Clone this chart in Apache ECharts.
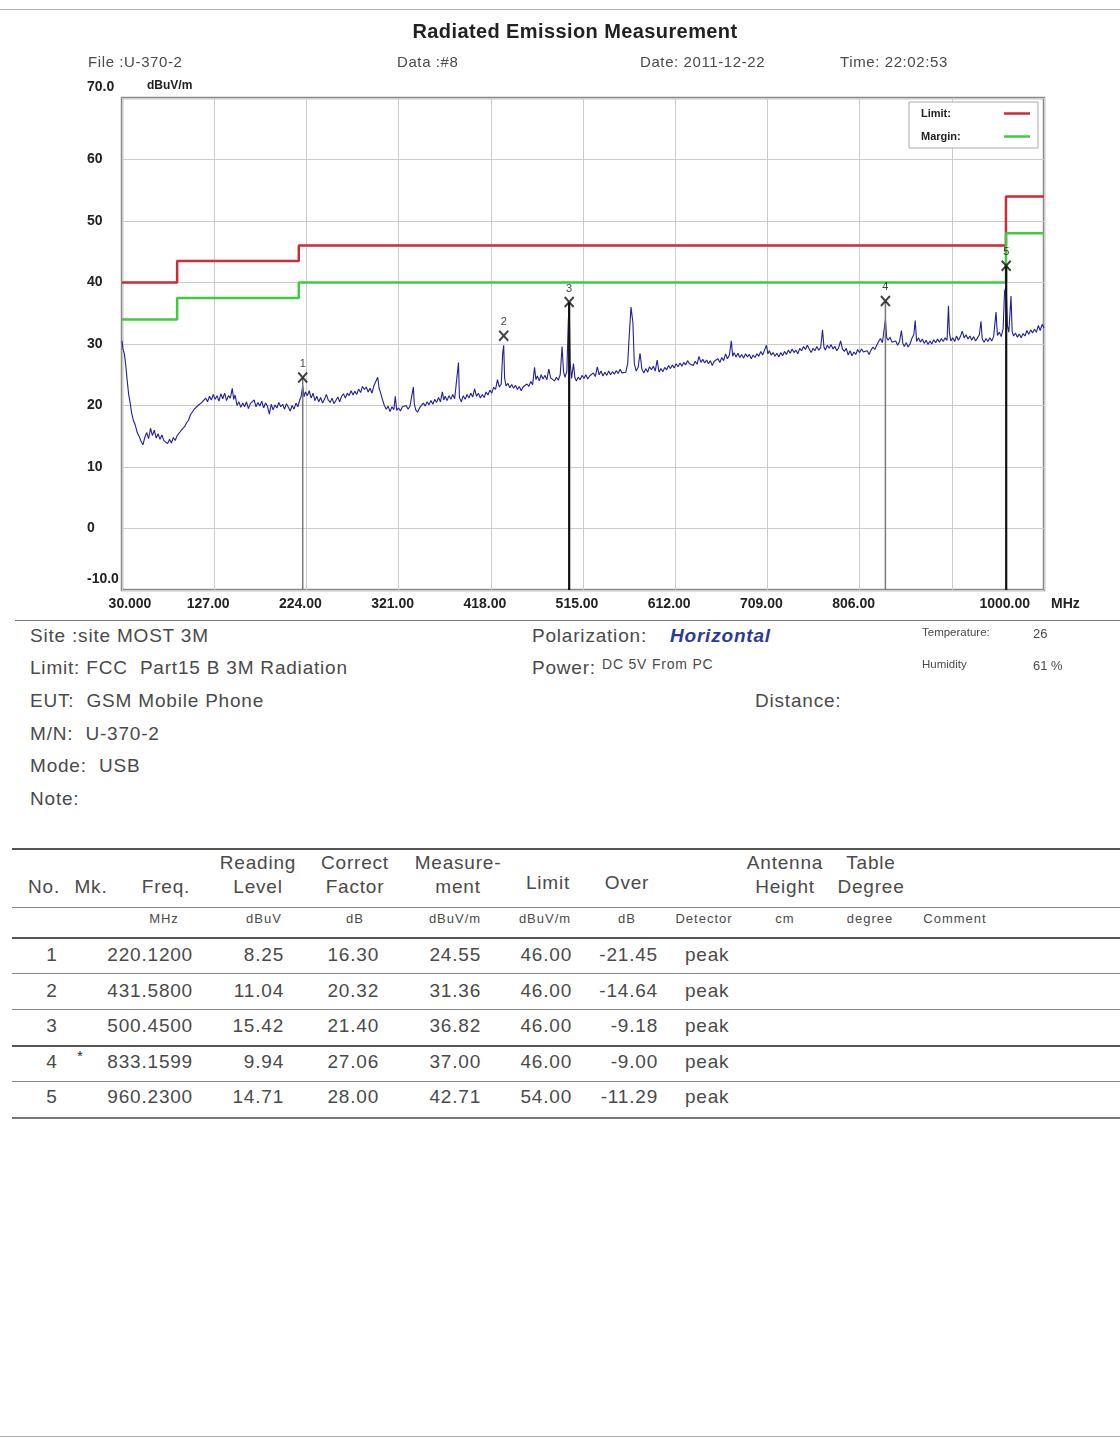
<!DOCTYPE html>
<html>
<head>
<meta charset="utf-8">
<script src="https://cdn.jsdelivr.net/npm/echarts@6/dist/echarts.min.js"></script>
<style>
  body { margin: 0; width: 1120px; height: 1438px; background: #fff; position: relative; overflow: hidden;
         font-family: "Liberation Sans", Arial, sans-serif; color: #4a4a4a; }
  .t { position: absolute; white-space: pre; line-height: 1; }
  .rule { position: absolute; height: 0; }
  #chart { position: absolute; left: 0; top: 0; width: 1120px; height: 620px; }
</style>
</head>
<body>
<div id="chart"></div>
<script>
// ---- chart data ----
const xTickValues = [30, 127, 224, 321, 418, 515, 612, 709, 806, 903, 1000];
const xLabelValues = [30, 127, 224, 321, 418, 515, 612, 709, 806, 1000];
const xTickLabels = ['30.000', '127.00', '224.00', '321.00', '418.00', '515.00', '612.00', '709.00', '806.00', '1000.00'];
const yTickLabels = ['-10.0', '0', '10', '20', '30', '40', '50', '60', '70.0'];

const limitFreq = [30, 88, 216, 960, 1000];
const limitLevel = [40, 43.5, 46, 54, 54];
const marginLevel = [34, 37.5, 40, 48, 48];

const trace = [
  [30,30.5],[31,29.2],[32.5,28.4],[34,26.5],[35.5,24.0],[37,21.8],[38.5,20.5],[40,18.9],[42,17.6],[44,16.8],
  [46,15.6],[48,15.0],[50,14.2],[52,13.6],[54,14.8],[56,15.6],[58,14.6],[60,16.3],[62,15.1],[64,16.0],
  [66,14.7],[68,15.4],[70,14.5],[72,15.2],[74,14.3],[76,14.6],[78,13.8],[80,14.5],[82,13.9],[84,14.8],
  [86,14.3],[88,15.1],[90,15.0],[92,15.9],[94,15.8],[96,16.6],[98,17.2],[100,17.6],[102,18.5],[104,18.4],
  [106,19.4],[108,19.2],[110,20.0],[112,19.7],[114,20.5],[116,20.3],[118,21.2],[120,20.6],[122,21.5],[124,20.9],
  [126,21.8],[128,21.0],[130,21.6],[132,20.7],[134,21.9],[136,21.1],[138,22.0],[140,20.8],[142,21.6],[144,21.2],
  [146,22.8],[147.5,21.0],[149,21.7],[151,20.0],[153,20.6],[155,19.7],[157,20.4],[159,19.8],[161,20.6],[163,19.5],
  [165,20.3],[167,20.0],[169,20.9],[171,19.8],[173,20.5],[175,19.9],[177,20.7],[179,19.6],[181,20.4],[183,19.9],
  [185,18.6],[187,20.2],[189,19.3],[191,20.1],[193,19.6],[195,20.5],[197,19.8],[199,20.2],[201,19.4],[203,20.3],
  [205,19.7],[207,19.1],[209,20.0],[211,19.4],[213,20.4],[215,19.8],[217,20.9],[218.5,21.5],[220.12,23.2],[221.5,21.4],
  [223,22.2],[225,21.6],[227,22.4],[229,21.2],[231,22.0],[233,20.8],[235,21.5],[237,20.6],[239,21.3],[241,20.4],
  [243,21.0],[245,21.8],[247,20.9],[249,20.5],[251,21.2],[253,20.3],[255,20.8],[257,21.4],[259,20.6],[261,21.5],
  [263,21.9],[265,21.2],[267,22.0],[269,21.6],[271,22.4],[273,21.7],[275,22.3],[277,21.8],[279,22.7],[281,22.1],
  [283,23.1],[285,22.6],[287,23.0],[289,22.2],[291,22.8],[293,22.0],[295,23.2],[297,22.9],[299,24.6],[300.5,22.8],
  [302,22.1],[304,21.0],[306,20.0],[308,19.4],[310,19.9],[312,19.0],[314,19.8],[316,19.3],[317.5,21.5],[319,19.2],
  [321,19.6],[323,19.1],[325,19.8],[327,19.5],[329,20.0],[331,19.4],[333,19.9],[335,19.6],[336.5,23.0],[337.5,20.3],
  [339,19.3],[341,18.9],[343,19.6],[345,19.8],[347,20.4],[349,19.9],[351,20.6],[353,20.1],[355,20.8],[357,20.2],
  [359,21.0],[361,20.5],[363,21.3],[365,20.6],[367,22.2],[368.5,20.9],[370,21.5],[372,20.8],[374,21.6],[376,21.0],
  [378,21.8],[380,21.1],[382,21.4],[384,27.0],[385,21.3],[387,20.6],[389,21.6],[391,21.0],[393,21.8],[395,21.2],
  [397,22.0],[399,21.4],[401,22.7],[403,21.5],[405,22.0],[407,21.2],[409,21.8],[411,21.3],[413,22.2],[415,21.7],
  [417,22.5],[419,22.0],[421,23.0],[423,22.6],[425,24.2],[427,23.0],[429,23.5],[430.5,28.5],[431.58,29.8],[432.5,24.5],
  [434,23.2],[436,23.6],[438,22.9],[440,23.4],[442,22.8],[444,23.3],[446,22.6],[448,23.1],[450,22.4],[452,23.0],
  [454,22.7],[456,23.5],[458,23.1],[460,23.9],[462,23.4],[464,26.2],[465.5,24.2],[467,24.8],[469,24.0],[471,25.0],
  [473,24.3],[475,24.9],[477,24.2],[479,25.9],[481,24.5],[483,24.8],[485,24.0],[487,24.6],[489,24.1],[491,25.0],
  [493,29.6],[494.5,25.5],[496,24.6],[498,25.5],[499.5,33.5],[500.45,36.8],[501.5,27.0],[503,24.4],[505,26.8],[506.5,24.5],
  [508,24.0],[510,24.6],[512,24.2],[514,24.9],[516,24.4],[518,25.0],[520,24.3],[522,24.8],[524,24.5],[526,25.3],
  [528,24.7],[530,26.3],[532,25.0],[534,25.6],[536,24.8],[538,25.4],[540,24.9],[542,25.6],[544,25.0],[546,25.5],
  [548,25.1],[550,25.7],[552,25.2],[554,25.9],[556,25.3],[558,25.0],[560,25.4],[562,26.8],[563.5,31.0],[565.5,36.0],
  [567.5,33.5],[569,26.8],[571,25.6],[573,26.2],[575,28.5],[577,25.9],[579,25.3],[581,26.0],[583,25.4],[585,26.3],
  [587,25.8],[589,26.4],[591,25.6],[593,27.4],[595,25.4],[597,26.0],[599,25.5],[601,26.2],[603,25.8],[605,26.5],
  [607,26.0],[609,26.6],[611,26.1],[613,26.8],[615,26.3],[617,26.9],[619,26.4],[621,27.0],[623,26.6],[625,27.3],
  [627,26.8],[629,27.0],[631,26.5],[633,27.2],[635,26.7],[637,28.0],[639,27.0],[641,27.5],[643,26.9],[645,27.4],
  [647,26.8],[649,27.3],[651,26.5],[653,27.2],[655,26.9],[657,27.6],[659,27.0],[661,27.8],[663,27.3],[665,28.4],
  [667,27.6],[669,28.2],[671,30.5],[672.5,28.0],[674,28.6],[676,27.9],[678,28.5],[680,27.8],[682,28.3],[684,27.7],
  [686,28.4],[688,27.9],[690,28.3],[692,27.6],[694,28.2],[696,27.8],[698,28.4],[700,28.0],[702,28.8],[704,28.2],
  [706,29.0],[708,29.8],[709.5,28.4],[711,28.9],[713,28.2],[715,28.6],[717,28.0],[719,28.5],[721,27.9],[723,28.6],
  [725,28.1],[727,28.8],[729,28.3],[731,29.0],[733,28.5],[735,29.2],[737,28.6],[739,29.0],[741,28.4],[743,29.3],
  [745,28.9],[747,29.6],[749,29.1],[751,29.8],[753,29.2],[755,28.6],[757,29.3],[759,28.9],[761,29.6],[763,29.0],
  [765,29.4],[767,32.3],[768.5,29.5],[770,29.0],[772,29.8],[774,29.3],[776,29.9],[778,29.2],[780,29.6],[782,28.9],
  [784,29.4],[786,30.5],[788,29.2],[790,28.8],[792,29.3],[794,28.2],[796,28.9],[798,28.1],[800,28.7],[802,28.3],
  [804,29.1],[806,28.6],[808,29.2],[810,28.7],[812,28.4],[814,28.9],[816,28.3],[818,29.0],[820,29.5],[822,29.1],
  [824,29.8],[826,30.4],[828,30.9],[830,30.2],[831.5,32.0],[833.16,34.0],[834.5,31.0],[836,30.6],[838,31.1],[840,30.3],
  [842,30.0],[844,30.5],[846,29.8],[848,30.4],[850,32.2],[851.5,30.1],[853,29.6],[855,30.2],[857,29.5],[859,30.0],
  [861,30.9],[863,31.5],[864.5,33.8],[866,30.4],[868,31.0],[870,30.3],[872,30.8],[874,30.1],[876,30.6],[878,29.9],
  [880,30.5],[882,30.0],[884,30.7],[886,30.2],[888,30.8],[890,30.3],[892,30.9],[894,30.4],[896,31.0],[898,30.6],
  [899.5,36.2],[900.5,31.8],[902,30.5],[904,31.0],[906,30.4],[908,31.3],[910,30.6],[912,31.2],[914,32.1],[916,31.0],
  [918,31.5],[920,30.8],[922,31.3],[924,30.6],[926,31.2],[928,30.5],[930,31.0],[932,31.5],[933.7,33.7],[935,30.8],
  [937,30.3],[939,30.9],[941,30.4],[943,31.0],[945,30.5],[947,31.2],[949.5,35.2],[951,31.4],[953,31.9],[955,31.2],
  [957,32.5],[958.5,38.5],[960.23,39.5],[961.5,33.0],[963,31.9],[965.3,37.8],[966.5,32.0],[968,31.3],[970,31.8],[972,31.1],
  [974,31.6],[976,31.0],[978,31.7],[980,31.3],[982,32.2],[984,31.6],[986,32.3],[988,31.8],[990,32.4],[992,31.9],
  [994,33.0],[996,32.2],[998,33.2],[1000,32.6]
];

// ---- result table ----
const rowNo = [1, 2, 3, 4, 5];
const rowMark = ['', '', '', '*', ''];
const rowFreq = [220.12, 431.58, 500.45, 833.1599, 960.23];
const rowReading = [8.25, 11.04, 15.42, 9.94, 14.71];
const rowCorrect = [16.30, 20.32, 21.40, 27.06, 28.00];
const rowMeasure = [24.55, 31.36, 36.82, 37.00, 42.71];
const rowLimit = [46.00, 46.00, 46.00, 46.00, 54.00];
const rowOver = [-21.45, -14.64, -9.18, -9.00, -11.29];
const rowDetector = ['peak', 'peak', 'peak', 'peak', 'peak'];
const markerLine = ['thin', 'none', 'bold', 'thin', 'bold'];

// ---- page text ----
function put(txt, x, y, size, align, style) {
  const d = document.createElement('div');
  d.className = 't';
  d.textContent = txt;
  d.style.fontSize = size + 'px';
  d.style.top = (y - size * 0.5) + 'px';
  d.style.left = x + 'px';
  if (align === 'center') d.style.transform = 'translateX(-50%)';
  if (align === 'right') d.style.transform = 'translateX(-100%)';
  if (style) Object.assign(d.style, style);
  document.body.appendChild(d);
}
function rule(y, x0, x1, w, c) {
  const d = document.createElement('div');
  d.className = 'rule';
  d.style.top = y + 'px';
  d.style.left = x0 + 'px';
  d.style.width = (x1 - x0) + 'px';
  d.style.borderTop = w + 'px solid ' + c;
  document.body.appendChild(d);
}
const big = { letterSpacing: '0.8px' };
const hdr = { letterSpacing: '0.6px' };

rule(9, 0, 1120, 1, '#b0b0b0');
put('Radiated Emission Measurement', 575, 31, 20, 'center', { fontWeight: 'bold', color: '#222', letterSpacing: '0.4px' });
put('File :U-370-2', 88, 61, 15, 'left', hdr);
put('Data :#8', 397, 61, 15, 'left', hdr);
put('Date: 2011-12-22', 640, 61, 15, 'left', hdr);
put('Time: 22:02:53', 840, 61, 15, 'left', hdr);
put('MHz', 1051, 603, 14, 'left', { fontWeight: 'bold', color: '#222' });

rule(620, 15, 1120, 1.5, '#777');
put('Site :site MOST 3M', 30, 635, 19, 'left', big);
put('Limit: FCC  Part15 B 3M Radiation', 30, 667, 19, 'left', big);
put('EUT:  GSM Mobile Phone', 30, 700, 19, 'left', big);
put('M/N:  U-370-2', 30, 733, 19, 'left', big);
put('Mode:  USB', 30, 765, 19, 'left', big);
put('Note:', 30, 798, 19, 'left', big);
put('Polarization:', 532, 635, 19, 'left', big);
put('Horizontal', 670, 635, 19, 'left', { fontWeight: 'bold', fontStyle: 'italic', color: '#2b3a9a', letterSpacing: '0.8px' });
put('Power:', 532, 667, 19, 'left', big);
put('DC 5V From PC', 602, 664, 14, 'left', big);
put('Distance:', 755, 700, 19, 'left', big);
put('Temperature:', 922, 633, 11.5, 'left');
put('26', 1033, 633, 13, 'left');
put('Humidity', 922, 665, 11.5, 'left');
put('61 %', 1033, 665, 13, 'left');

// table
rule(848, 12, 1120, 2, '#555');
put('No.', 44, 886, 19, 'center', big);
put('Mk.', 91, 886, 19, 'center', big);
put('Freq.', 166, 886, 19, 'center', big);
put('Reading', 258, 862, 19, 'center', big);
put('Level', 258, 886, 19, 'center', big);
put('Correct', 355, 862, 19, 'center', big);
put('Factor', 355, 886, 19, 'center', big);
put('Measure-', 458, 862, 19, 'center', big);
put('ment', 458, 886, 19, 'center', big);
put('Limit', 548, 882, 19, 'center', big);
put('Over', 627, 882, 19, 'center', big);
put('Antenna', 785, 862, 19, 'center', big);
put('Height', 785, 886, 19, 'center', big);
put('Table', 871, 862, 19, 'center', big);
put('Degree', 871, 886, 19, 'center', big);
rule(907, 12, 1120, 1.5, '#888');
const unitX = [164, 264, 355, 455, 545, 627, 704, 785, 870, 955];
const unitTxt = ['MHz', 'dBuV', 'dB', 'dBuV/m', 'dBuV/m', 'dB', 'Detector', 'cm', 'degree', 'Comment'];
unitTxt.forEach((u, i) => put(u, unitX[i], 918, 13, 'center', { letterSpacing: '1px' }));
rule(937, 12, 1120, 2, '#555');
const rowY = [954, 990, 1025, 1061, 1096];
const rowRule = [[973, 1.5, '#888'], [1009, 1.5, '#888'], [1045, 2, '#555'], [1081, 1.5, '#888'], [1117, 2, '#777']];
rowNo.forEach((n, i) => {
  const y = rowY[i];
  put(String(n), 52, y, 19, 'center', big);
  if (rowMark[i]) put(rowMark[i], 80, y - 5, 14, 'center', { color: '#222' });
  put(rowFreq[i].toFixed(4), 193, y, 19, 'right', big);
  put(rowReading[i].toFixed(2), 284, y, 19, 'right', big);
  put(rowCorrect[i].toFixed(2), 379, y, 19, 'right', big);
  put(rowMeasure[i].toFixed(2), 481, y, 19, 'right', big);
  put(rowLimit[i].toFixed(2), 572, y, 19, 'right', big);
  put(rowOver[i].toFixed(2), 658, y, 19, 'right', big);
  put(rowDetector[i], 685, y, 19, 'left', big);
  rule(rowRule[i][0], 12, 1120, rowRule[i][1], rowRule[i][2]);
});
rule(1436, 0, 1120, 1, '#b0b0b0');

// ---- chart ----
const thinLine = [], boldLine = [];
rowFreq.forEach((f, i) => {
  const seg = [[f, -10], [f, rowMeasure[i]], [f, '-']];
  if (markerLine[i] === 'thin') thinLine.push(...seg);
  if (markerLine[i] === 'bold') boldLine.push(...seg);
});

const lbl = { fontSize: 14, fontWeight: 'bold', color: '#222' };
const chart = echarts.init(document.getElementById('chart'));
chart.setOption({
  animation: false,
  grid: { left: 122, top: 98, width: 922, height: 492, show: true, borderColor: '#8a8a8a', borderWidth: 2.5 },
  legend: {
    data: [{ name: 'Limit', icon: 'rect' }, { name: 'Margin', icon: 'rect' }],
    orient: 'vertical', right: 82, top: 102, align: 'right',
    itemWidth: 26, itemHeight: 2.5, itemGap: 12,
    padding: [6, 8, 6, 12], borderColor: '#aaa', borderWidth: 1, backgroundColor: '#fff',
    selectedMode: false,
    formatter: n => '{a|' + n + ':}',
    textStyle: { rich: { a: { width: 78, align: 'left', fontSize: 11, fontWeight: 'bold', color: '#222' } } }
  },
  xAxis: {
    type: 'value', min: 30, max: 1000,
    axisLine: { show: false },
    axisTick: { show: false, customValues: xTickValues },
    axisLabel: {
      customValues: xLabelValues, margin: 7, ...lbl,
      alignMaxLabel: 'right',
      formatter: v => {
        const i = xLabelValues.indexOf(v);
        if (i === 0) return '{first|' + xTickLabels[i] + '}';
        if (i === xLabelValues.length - 1) return '{last|' + xTickLabels[i] + '}';
        return '{mid|' + xTickLabels[i] + '}';
      },
      rich: {
        first: { ...lbl, padding: [0, 0, 0, 16] },
        mid: { ...lbl, padding: [0, 12, 0, 0] },
        last: { ...lbl, padding: [0, 14, 0, 0] }
      }
    },
    splitLine: { show: true, lineStyle: { color: '#cccccc', width: 1 } }
  },
  yAxis: {
    type: 'value', min: -10, max: 70, interval: 10,
    name: 'dBuV/m', nameLocation: 'end', nameGap: 6,
    nameTextStyle: { fontSize: 12, fontWeight: 'bold', color: '#222', align: 'left', padding: [0, 0, 0, 25] },
    axisLine: { show: false }, axisTick: { show: false },
    axisLabel: {
      align: 'left', margin: 35, ...lbl, lineHeight: 22,
      verticalAlignMinLabel: 'bottom', verticalAlignMaxLabel: 'bottom',
      formatter: v => yTickLabels[Math.round((v + 10) / 10)]
    },
    splitLine: { show: true, lineStyle: { color: '#cccccc', width: 1 } }
  },
  series: [
    {
      name: 'Trace', type: 'line', data: trace, symbol: 'none', z: 2,
      lineStyle: { color: '#20209a', width: 1.1 }, itemStyle: { color: '#20209a' }
    },
    {
      name: 'Limit', type: 'line', step: 'end', symbol: 'none', z: 3,
      data: limitFreq.map((f, i) => [f, limitLevel[i]]),
      lineStyle: { color: '#cc2b3a', width: 2.5 }, itemStyle: { color: '#cc2b3a' }
    },
    {
      name: 'Margin', type: 'line', step: 'end', symbol: 'none', z: 3,
      data: limitFreq.map((f, i) => [f, marginLevel[i]]),
      lineStyle: { color: '#3ecc3e', width: 2.5 }, itemStyle: { color: '#3ecc3e' }
    },
    {
      name: 'MarkerThin', type: 'line', symbol: 'none', z: 4, connectNulls: false,
      data: thinLine, lineStyle: { color: '#7a7a7a', width: 1.5 }
    },
    {
      name: 'MarkerBold', type: 'line', symbol: 'none', z: 4, connectNulls: false,
      data: boldLine, lineStyle: { color: '#111', width: 2.2 }
    },
    {
      name: 'Markers', type: 'scatter', z: 5,
      data: rowFreq.map((f, i) => [f, rowMeasure[i]]),
      symbol: 'path://M0,0L10,10M10,0L0,10', symbolSize: [9, 10],
      itemStyle: { color: 'transparent', borderColor: '#111', borderWidth: 2 },
      label: {
        show: true, position: 'top', distance: 2, fontSize: 11, color: '#111',
        formatter: p => String(rowNo[p.dataIndex])
      }
    }
  ]
});
</script>
</body>
</html>
